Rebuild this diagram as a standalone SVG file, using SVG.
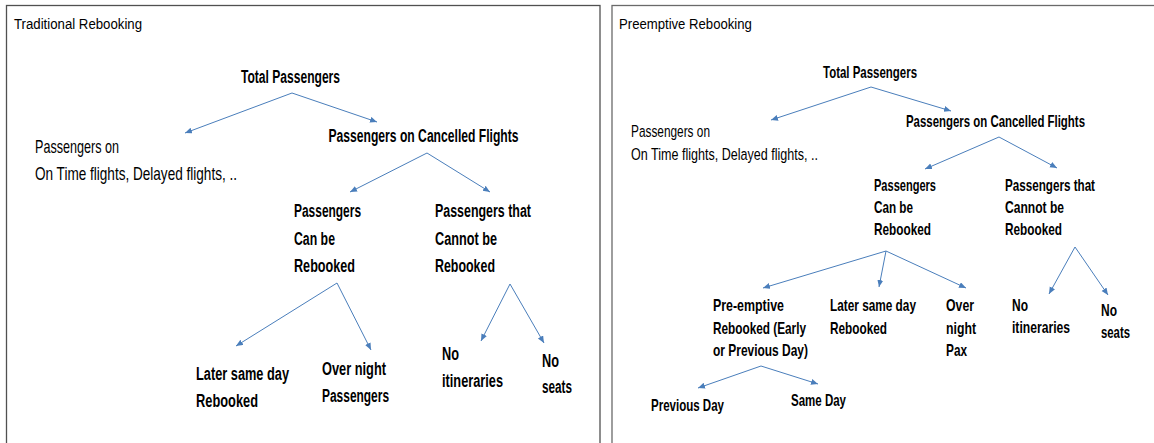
<svg xmlns="http://www.w3.org/2000/svg" width="1154" height="443" viewBox="0 0 1154 443">
  <style>
    text { font-family: "Liberation Sans", Arial, sans-serif; fill: #000; }
    .title { font-size: 15px; }
    .lb { font-size: 18.5px; font-weight: bold; }
    .ln { font-size: 18px; }
    .rb { font-size: 16.5px; font-weight: bold; }
    .rn { font-size: 16.5px; }
    .panel { fill: #fff; stroke-width: 1.3; }
    .edge { stroke: #4a7ebb; stroke-width: 1; fill: none; marker-end: url(#head); }
  </style>
  <defs>
    <marker id="head" markerUnits="userSpaceOnUse" markerWidth="8" markerHeight="7" refX="7" refY="3" orient="auto">
      <path d="M0,0 L7,3 L0,6 z" fill="#4a7ebb"/>
    </marker>
  </defs>

  <rect width="1154" height="443" fill="#fff"/>

  <!-- panel frames; labels use a narrowed sans (horizontal scale) -->
  <g id="panel-traditional">
    <rect class="panel" x="6.5" y="5.5" width="593.5" height="460" stroke="#505050"/>
    <text class="title" transform="translate(14,29) scale(0.88,1)" textLength="145.5" lengthAdjust="spacingAndGlyphs">Traditional Rebooking</text>
  </g>
  <g id="panel-preemptive">
    <rect class="panel" x="612" y="5.5" width="560" height="460" stroke="#6a6a6a"/>
    <text class="title" transform="translate(619,29) scale(0.88,1)" textLength="151" lengthAdjust="spacingAndGlyphs">Preemptive Rebooking</text>
  </g>

  <!-- connectors -->
  <g id="connectors">
    <!-- traditional -->
    <path class="edge" d="M292,93 L185,133"/>
    <path class="edge" d="M292,93 L377,122"/>
    <path class="edge" d="M427,153 L350,192"/>
    <path class="edge" d="M427,153 L490,192"/>
    <path class="edge" d="M337,283 L236,346"/>
    <path class="edge" d="M337,283 L371,350"/>
    <path class="edge" d="M510,284 L481,341"/>
    <path class="edge" d="M510,284 L544,343"/>
    <!-- preemptive -->
    <path class="edge" d="M871,87 L771,120"/>
    <path class="edge" d="M871,87 L951,111"/>
    <path class="edge" d="M999,137 L925,169"/>
    <path class="edge" d="M999,137 L1057,168"/>
    <path class="edge" d="M886,251 L763,288"/>
    <path class="edge" d="M886,251 L879,287"/>
    <path class="edge" d="M886,251 L966,288"/>
    <path class="edge" d="M1075,247 L1049,294"/>
    <path class="edge" d="M1075,247 L1108,295"/>
    <path class="edge" d="M761,366 L698,388"/>
    <path class="edge" d="M761,366 L818,384"/>
  </g>

  <!-- traditional rebooking tree -->
  <g id="t-total"><text class="lb" transform="translate(241,83) scale(0.72,1)" textLength="137.5" lengthAdjust="spacingAndGlyphs">Total Passengers</text></g>
  <g id="t-other">
    <text class="ln" transform="translate(35,153) scale(0.76,1)" textLength="110.5" lengthAdjust="spacingAndGlyphs">Passengers on</text>
    <text class="ln" transform="translate(35,180) scale(0.76,1)" textLength="265.8" lengthAdjust="spacingAndGlyphs">On Time flights, Delayed flights, ..</text>
  </g>
  <g id="t-cancelled"><text class="lb" transform="translate(328.5,142) scale(0.72,1)" textLength="263.9" lengthAdjust="spacingAndGlyphs">Passengers on Cancelled Flights</text></g>
  <g id="t-can">
    <text class="lb" transform="translate(294,217) scale(0.72,1)" textLength="93.1" lengthAdjust="spacingAndGlyphs">Passengers</text>
    <text class="lb" transform="translate(294,245) scale(0.72,1)" textLength="56.9" lengthAdjust="spacingAndGlyphs">Can be</text>
    <text class="lb" transform="translate(294,272) scale(0.72,1)" textLength="84.7" lengthAdjust="spacingAndGlyphs">Rebooked</text>
  </g>
  <g id="t-cannot">
    <text class="lb" transform="translate(435,217) scale(0.72,1)" textLength="133.3" lengthAdjust="spacingAndGlyphs">Passengers that</text>
    <text class="lb" transform="translate(435,245) scale(0.72,1)" textLength="86.1" lengthAdjust="spacingAndGlyphs">Cannot be</text>
    <text class="lb" transform="translate(435,272) scale(0.72,1)" textLength="83.3" lengthAdjust="spacingAndGlyphs">Rebooked</text>
  </g>
  <g id="t-later">
    <text class="lb" transform="translate(196,380) scale(0.72,1)" textLength="129.2" lengthAdjust="spacingAndGlyphs">Later same day</text>
    <text class="lb" transform="translate(196,407) scale(0.72,1)" textLength="86.1" lengthAdjust="spacingAndGlyphs">Rebooked</text>
  </g>
  <g id="t-overnight">
    <text class="lb" transform="translate(322,375) scale(0.72,1)" textLength="88.9" lengthAdjust="spacingAndGlyphs">Over night</text>
    <text class="lb" transform="translate(322,402) scale(0.72,1)" textLength="93.1" lengthAdjust="spacingAndGlyphs">Passengers</text>
  </g>
  <g id="t-noitin">
    <text class="lb" transform="translate(442,360) scale(0.72,1)" textLength="23.6" lengthAdjust="spacingAndGlyphs">No</text>
    <text class="lb" transform="translate(442,387) scale(0.72,1)" textLength="84.7" lengthAdjust="spacingAndGlyphs">itineraries</text>
  </g>
  <g id="t-noseats">
    <text class="lb" transform="translate(542,367) scale(0.72,1)" textLength="23.6" lengthAdjust="spacingAndGlyphs">No</text>
    <text class="lb" transform="translate(542,393) scale(0.72,1)" textLength="41.7" lengthAdjust="spacingAndGlyphs">seats</text>
  </g>

  <!-- preemptive rebooking tree -->
  <g id="p-total"><text class="rb" transform="translate(823,78) scale(0.72,1)" textLength="130.6" lengthAdjust="spacingAndGlyphs">Total Passengers</text></g>
  <g id="p-other">
    <text class="rn" transform="translate(631,137) scale(0.76,1)" textLength="103.9" lengthAdjust="spacingAndGlyphs">Passengers on</text>
    <text class="rn" transform="translate(631,160) scale(0.76,1)" textLength="246.1" lengthAdjust="spacingAndGlyphs">On Time flights, Delayed flights, ..</text>
  </g>
  <g id="p-cancelled"><text class="rb" transform="translate(906,127) scale(0.72,1)" textLength="248.6" lengthAdjust="spacingAndGlyphs">Passengers on Cancelled Flights</text></g>
  <g id="p-can">
    <text class="rb" transform="translate(874,191) scale(0.72,1)" textLength="86.1" lengthAdjust="spacingAndGlyphs">Passengers</text>
    <text class="rb" transform="translate(874,213) scale(0.72,1)" textLength="54.2" lengthAdjust="spacingAndGlyphs">Can be</text>
    <text class="rb" transform="translate(874,235) scale(0.72,1)" textLength="79.2" lengthAdjust="spacingAndGlyphs">Rebooked</text>
  </g>
  <g id="p-cannot">
    <text class="rb" transform="translate(1005,191) scale(0.72,1)" textLength="125" lengthAdjust="spacingAndGlyphs">Passengers that</text>
    <text class="rb" transform="translate(1005,213) scale(0.72,1)" textLength="81.9" lengthAdjust="spacingAndGlyphs">Cannot be</text>
    <text class="rb" transform="translate(1005,235) scale(0.72,1)" textLength="79.2" lengthAdjust="spacingAndGlyphs">Rebooked</text>
  </g>
  <g id="p-preemptive">
    <text class="rb" transform="translate(713,311) scale(0.72,1)" textLength="98.6" lengthAdjust="spacingAndGlyphs">Pre-emptive</text>
    <text class="rb" transform="translate(713,334) scale(0.72,1)" textLength="129.2" lengthAdjust="spacingAndGlyphs">Rebooked (Early</text>
    <text class="rb" transform="translate(713,356) scale(0.72,1)" textLength="131.9" lengthAdjust="spacingAndGlyphs">or Previous Day)</text>
  </g>
  <g id="p-later">
    <text class="rb" transform="translate(830,311) scale(0.72,1)" textLength="119.4" lengthAdjust="spacingAndGlyphs">Later same day</text>
    <text class="rb" transform="translate(830,334) scale(0.72,1)" textLength="79.2" lengthAdjust="spacingAndGlyphs">Rebooked</text>
  </g>
  <g id="p-overnight">
    <text class="rb" transform="translate(946,311) scale(0.72,1)" textLength="38.9" lengthAdjust="spacingAndGlyphs">Over</text>
    <text class="rb" transform="translate(946,334) scale(0.72,1)" textLength="41.7" lengthAdjust="spacingAndGlyphs">night</text>
    <text class="rb" transform="translate(946,356) scale(0.72,1)" textLength="29.2" lengthAdjust="spacingAndGlyphs">Pax</text>
  </g>
  <g id="p-noitin">
    <text class="rb" transform="translate(1012,311) scale(0.72,1)" textLength="22.2" lengthAdjust="spacingAndGlyphs">No</text>
    <text class="rb" transform="translate(1012,333) scale(0.72,1)" textLength="80.6" lengthAdjust="spacingAndGlyphs">itineraries</text>
  </g>
  <g id="p-noseats">
    <text class="rb" transform="translate(1101,316) scale(0.72,1)" textLength="22.2" lengthAdjust="spacingAndGlyphs">No</text>
    <text class="rb" transform="translate(1101,338) scale(0.72,1)" textLength="40.3" lengthAdjust="spacingAndGlyphs">seats</text>
  </g>
  <g id="p-prevday"><text class="rb" transform="translate(651,411) scale(0.72,1)" textLength="101.4" lengthAdjust="spacingAndGlyphs">Previous Day</text></g>
  <g id="p-sameday"><text class="rb" transform="translate(791,406) scale(0.72,1)" textLength="76.4" lengthAdjust="spacingAndGlyphs">Same Day</text></g>
</svg>
